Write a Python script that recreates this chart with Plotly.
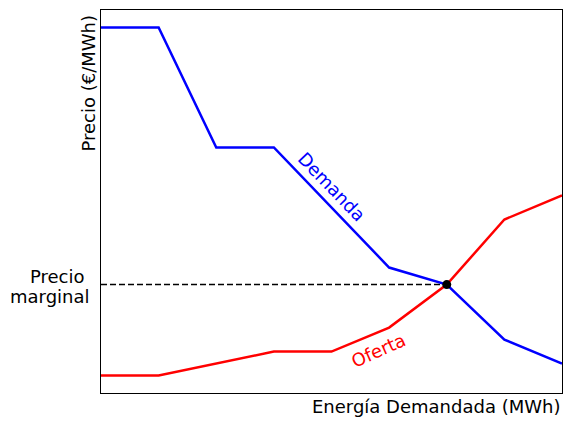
import plotly.graph_objects as go

# Data
demand_x = [0, 1, 2, 3, 5, 6, 7, 8]
demand_y = [15.5, 15.5, 10.5, 10.5, 5.5, 4.79, 2.5, 1.5]
supply_x = [0, 1, 3, 4, 5, 6, 7, 8]
supply_y = [1, 1, 2, 2, 3, 4.79, 7.5, 8.5]
eq_x = [6]
eq_y = [4.79]

W, H = 564, 423
L, R, T, B = 101, 2, 10, 30
PW, PH = W - L - R, H - T - B

def px(xp):
    return (xp - L) / PW

def py(yp):
    return (H - B - yp) / PH

FONT = "DejaVu Sans"
FS = 18

fig = go.Figure()
fig.add_trace(go.Scatter(x=[0, eq_x[0]], y=[eq_y[0], eq_y[0]], mode="lines",
                         line=dict(color="black", width=1.5, dash="6px,3px"),
                         hoverinfo="skip", showlegend=False))
fig.add_trace(go.Scatter(x=demand_x, y=demand_y, mode="lines",
                         line=dict(color="#0000ff", width=2.5), showlegend=False))
fig.add_trace(go.Scatter(x=supply_x, y=supply_y, mode="lines",
                         line=dict(color="#ff0000", width=2.5), showlegend=False))
fig.add_trace(go.Scatter(x=eq_x, y=eq_y, mode="markers",
                         marker=dict(color="black", size=9), showlegend=False))

ymin, ymax = min(supply_y + demand_y), max(supply_y + demand_y)
pad = 0.05 * (ymax - ymin)

fig.update_xaxes(range=[0, 8], showticklabels=False, ticks="", showgrid=False,
                 zeroline=False, showline=True, mirror=True, linecolor="black",
                 linewidth=1)
fig.update_yaxes(range=[ymin - pad, ymax + pad], showticklabels=False, ticks="",
                 showgrid=False, zeroline=False, showline=True, mirror=True,
                 linecolor="black", linewidth=1)

annotations = [
    dict(text="Energía Demandada (MWh)", xref="paper", yref="paper",
         x=1, y=py(406.5), xanchor="right", yanchor="middle", showarrow=False,
         font=dict(family=FONT, size=FS, color="black")),
    dict(text="Precio (€/MWh)", xref="paper", yref="paper",
         x=px(88), y=py(83.5), xanchor="center", yanchor="middle", textangle=-90,
         showarrow=False, font=dict(family=FONT, size=FS, color="black")),
    dict(text="Precio", xref="paper", yref="paper",
         x=px(87), y=py(276.5), xanchor="right", yanchor="middle", showarrow=False,
         font=dict(family=FONT, size=FS, color="black")),
    dict(text="marginal", xref="paper", yref="paper",
         x=px(92), y=py(296), xanchor="right", yanchor="middle", showarrow=False,
         font=dict(family=FONT, size=FS, color="black")),
    dict(text="Demanda", xref="x", yref="y", x=4.0, y=8.87, textangle=46,
         xanchor="center", yanchor="middle", showarrow=False,
         font=dict(family=FONT, size=FS, color="#0000ff")),
    dict(text="Oferta", xref="x", yref="y", x=4.81, y=2.04, textangle=-24,
         xanchor="center", yanchor="middle", showarrow=False,
         font=dict(family=FONT, size=FS, color="#ff0000")),
]

fig.update_layout(width=W, height=H, margin=dict(l=L, r=R, t=T, b=B),
                  plot_bgcolor="white", paper_bgcolor="white",
                  annotations=annotations, showlegend=False)

fig.write_html("out.html", config={"displayModeBar": False},
               post_script="document.body.style.margin='0';document.body.style.overflow='hidden';")
